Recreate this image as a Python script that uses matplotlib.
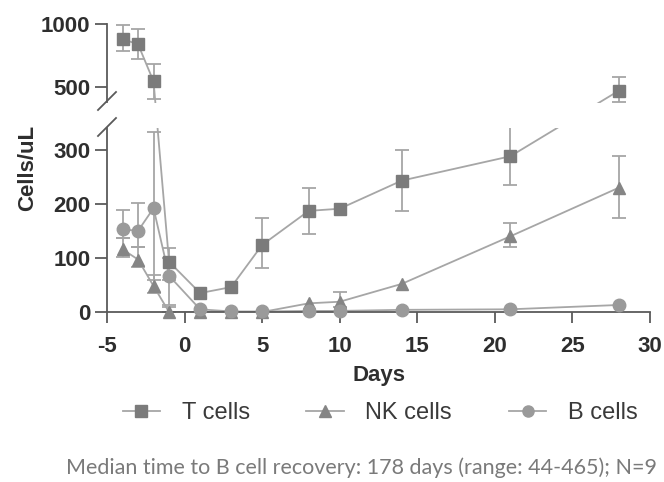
import matplotlib
matplotlib.use("Agg")
import matplotlib.pyplot as plt
import numpy as np
from matplotlib.lines import Line2D

days = [-4, -3, -2, -1, 1, 3, 5, 8, 10, 14, 21, 28]

t_cells = [880, 840, 545, 93, 35, 46, 124, 187, 191, 243, 288, 472]
t_lo = [785, 720, 402, 60, 35, 46, 81, 144, 191, 187, 234, 383]
t_hi = [992, 958, 680, 118, 35, 46, 174, 230, 191, 300, 355, 577]

nk_cells = [116, 97, 48, 0, 0, 0, 0, 16, 19, 52, 140, 230]
nk_lo = [102, 83, 35, 0, 0, 0, 0, 16, 10, 52, 121, 174]
nk_hi = [137, 120, 68, 10, 0, 0, 0, 16, 37, 52, 165, 289]

b_cells = [153, 150, 192, 67, 5, 1, 1, 2, 2, 4, 5, 13]
b_lo = [137, 120, 60, 13, 5, 1, 1, 2, 2, 4, 5, 13]
b_hi = [189, 202, 333, 100, 5, 1, 1, 2, 2, 4, 5, 13]

labels = ["T cells", "NK cells", "B cells"]
markers = ["s", "^", "o"]
colors = ["#7b7b7b", "#858585", "#9a9a9a"]

# broken y axis: 0-340 and 373-1000, with a gap in between
GAP_LO, GAP_HI = 340, 373
LOW_K, GAP_K, HIGH_K = 0.54, 25 / 33, 0.126

def fwd(v):
    v = np.asarray(v, dtype=float)
    s_lo = GAP_LO * LOW_K
    s_hi = s_lo + (GAP_HI - GAP_LO) * GAP_K
    return np.where(v <= GAP_LO, v * LOW_K,
                    np.where(v <= GAP_HI, s_lo + (v - GAP_LO) * GAP_K,
                             s_hi + (v - GAP_HI) * HIGH_K))

def inv(s):
    s = np.asarray(s, dtype=float)
    s_lo = GAP_LO * LOW_K
    s_hi = s_lo + (GAP_HI - GAP_LO) * GAP_K
    return np.where(s <= s_lo, s / LOW_K,
                    np.where(s <= s_hi, GAP_LO + (s - s_lo) / GAP_K,
                             GAP_HI + (s - s_hi) / HIGH_K))

LINE_C = "#a6a6a6"
AX_C = "#5a5a5a"
TXT_C = "#2e2e2e"

plt.rcParams['font.family'] = ['Liberation Sans', 'DejaVu Sans']

fig = plt.figure(figsize=(6.64, 4.82), dpi=100)
ax = fig.add_axes([107 / 664, 170 / 482, 543 / 664, 288 / 482])
ax.set_yscale("function", functions=(fwd, inv))

x = np.array(days, dtype=float)
series = [(t_cells, t_lo, t_hi), (nk_cells, nk_lo, nk_hi), (b_cells, b_lo, b_hi)]
for (vals, lo, hi), mk, col in zip(series, markers, colors):
    v = np.array(vals, dtype=float)
    lo = np.array(lo, dtype=float)
    hi = np.array(hi, dtype=float)
    ax.plot(x, v, color=LINE_C, lw=1.3, zorder=2)
    has_err = hi > lo
    ax.errorbar(x[has_err], v[has_err],
                yerr=[v[has_err] - lo[has_err], hi[has_err] - v[has_err]],
                fmt="none", ecolor=LINE_C, elinewidth=1.3, capsize=5,
                capthick=1.3, zorder=2)
    ax.plot(x, v, linestyle="none", marker=mk, ms=9, color=col, mec=col,
            clip_on=False, zorder=4)

# hide everything that falls in the gap
ax.axhspan(GAP_LO, GAP_HI, color="white", lw=0, zorder=3)

ax.set_xlim(-5, 30)
ax.set_ylim(0, 1000)
for s in ["top", "right", "left"]:
    ax.spines[s].set_visible(False)
ax.spines["bottom"].set_color(AX_C)
ax.spines["bottom"].set_linewidth(1.3)

ytf = ax.get_yaxis_transform()
ax.plot([0, 0], [0, GAP_LO], transform=ytf, color=AX_C, lw=1.3, clip_on=False, zorder=5)
ax.plot([0, 0], [GAP_HI + 10, 1000], transform=ytf, color=AX_C, lw=1.3, clip_on=False, zorder=5)

ax.set_yticks([0, 100, 200, 300, 500, 1000])
ax.set_yticklabels(["0", "100", "200", "300", "500", "1000"], fontweight="bold")
ax.set_xticks([-5, 0, 5, 10, 15, 20, 25, 30])
ax.set_xticklabels(["-5", "0", "5", "10", "15", "20", "25", "30"], fontweight="bold")
ax.tick_params(axis="y", length=9, width=1.3, color=AX_C, pad=3,
               labelsize=16, labelcolor=TXT_C)
ax.tick_params(axis="x", length=8, width=1.3, color=AX_C, pad=9,
               labelsize=16, labelcolor=TXT_C)
ax.set_xlabel("Days", fontsize=16, fontweight="bold", color=TXT_C, labelpad=6)

# break marks on the y axis
for yb in [101, 127]:
    fig.add_artist(Line2D([98 / 664, 116 / 664], [1 - (yb + 9) / 482, 1 - (yb - 9) / 482],
                          color=AX_C, lw=1.3))

fig.text(0.042, 1 - 168 / 482, "Cells/uL", rotation=90, fontsize=16,
         fontweight="bold", color=TXT_C, ha="center", va="center")

handles = [Line2D([], [], color=LINE_C, lw=1.3, marker=mk, ms=8, mfc=col, mec=col)
           for mk, col in zip(markers, colors)]
fig.legend(handles, labels, loc="center", bbox_to_anchor=(380 / 664, 1 - 413 / 482),
           ncol=3, frameon=False, fontsize=17, handlelength=1.6,
           handletextpad=0.9, columnspacing=2.4, labelcolor="#3a3a3a")

fig.text(362 / 664, 1 - 468 / 482,
         "Median time to B cell recovery: 178 days (range: 44-465); N=9",
         fontsize=15.5, family=["Lato", "DejaVu Sans"], color="#7a7a7a",
         ha="center", va="center")

fig.savefig("out.png", dpi=100)
